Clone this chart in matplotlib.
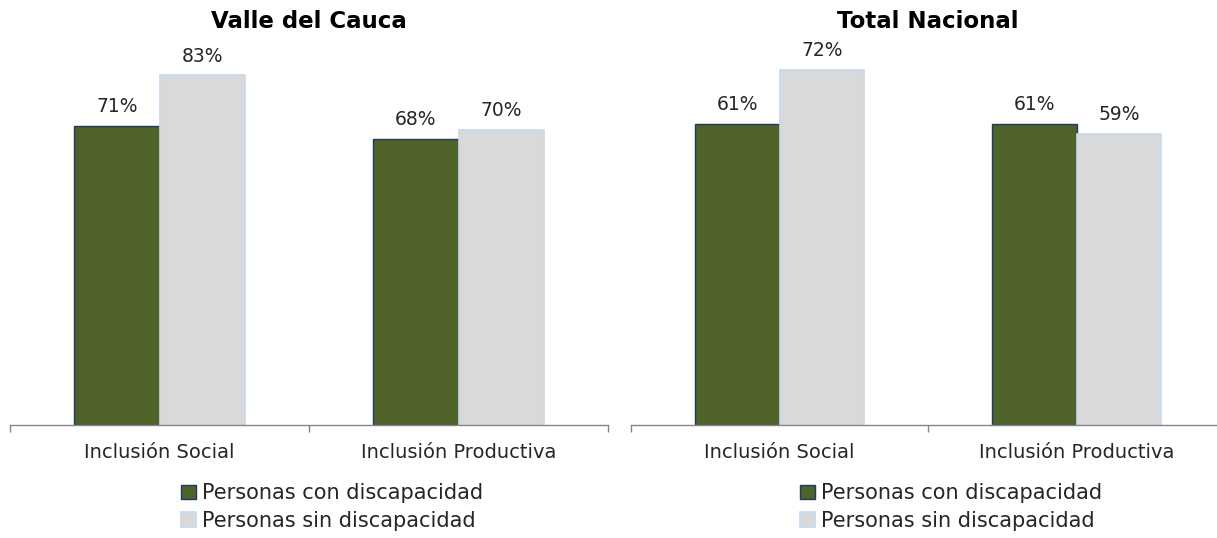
import matplotlib
matplotlib.use("Agg")
import matplotlib.pyplot as plt
import numpy as np

categories = ["Inclusión Social", "Inclusión Productiva"]
series_names = ["Personas con discapacidad", "Personas sin discapacidad"]
panel_titles = ["Valle del Cauca", "Total Nacional"]
valle_con = [71, 68]
valle_sin = [83, 70]
nacional_con = [61, 61]
nacional_sin = [72, 59]

plt.rcParams['font.family'] = ['DejaVu Sans']

W, H = 1217, 538
fig = plt.figure(figsize=(W / 100, H / 100), dpi=100)

green = "#4F6228"
green_edge = "#1F3864"
gray = "#D9D9D9"
gray_edge = "#C6D9F1"
axis_col = "#868686"
text_col = "#262626"

panels = [
    (panel_titles[0], valle_con, valle_sin, (10, 608), 91.4),
    (panel_titles[1], nacional_con, nacional_sin, (631, 1225), 78.0),
]

base_px = 425
top_px = 40
bw = 0.285
for title, con, sin, (x0, x1), ymax in panels:
    ax = fig.add_axes([x0 / W, 1 - base_px / H, (x1 - x0) / W, (base_px - top_px) / H])
    ax.set_xlim(-0.5, 1.5)
    ax.set_ylim(0, ymax)
    x = np.arange(len(categories))
    b1 = ax.bar(x - bw / 2, con, bw, color=green, edgecolor=green_edge, linewidth=1.0,
                label=series_names[0])
    b2 = ax.bar(x + bw / 2, sin, bw, color=gray, edgecolor=gray_edge, linewidth=1.2,
                label=series_names[1])
    for bars, vals in ((b1, con), (b2, sin)):
        for rect, v in zip(bars, vals):
            ax.annotate(f"{v}%", (rect.get_x() + rect.get_width() / 2, rect.get_height()),
                        xytext=(0, 7), textcoords="offset points", ha="center", va="bottom",
                        fontsize=13.5, color=text_col)
    for s in ("top", "right", "left"):
        ax.spines[s].set_visible(False)
    ax.spines["bottom"].set_color(axis_col)
    ax.spines["bottom"].set_linewidth(1.0)
    ax.set_yticks([])
    ax.set_xticks([-0.5, 0.5, 1.5])
    ax.set_xticklabels([])
    ax.tick_params(axis="x", which="major", length=5, color=axis_col, width=1.0)
    ax.set_xticks(x, minor=True)
    ax.set_xticklabels(categories, minor=True, fontsize=14, color=text_col)
    ax.tick_params(axis="x", which="minor", length=0, pad=13)
    ax.set_title(title, fontsize=16.5, fontweight="bold", pad=0,
                 y=(base_px - 21) / (base_px - top_px), va="center")
    cx = (x0 + x1) / 2 + 23
    ax.legend(handles=[b1, b2], loc="center", frameon=False, ncol=1,
              bbox_to_anchor=(cx / W, 1 - 507 / H), bbox_transform=fig.transFigure,
              fontsize=15, handlelength=0.7, handleheight=0.7, handletextpad=0.3,
              labelspacing=0.35, borderpad=0, labelcolor=text_col)

fig.savefig("out.png", dpi=100)
